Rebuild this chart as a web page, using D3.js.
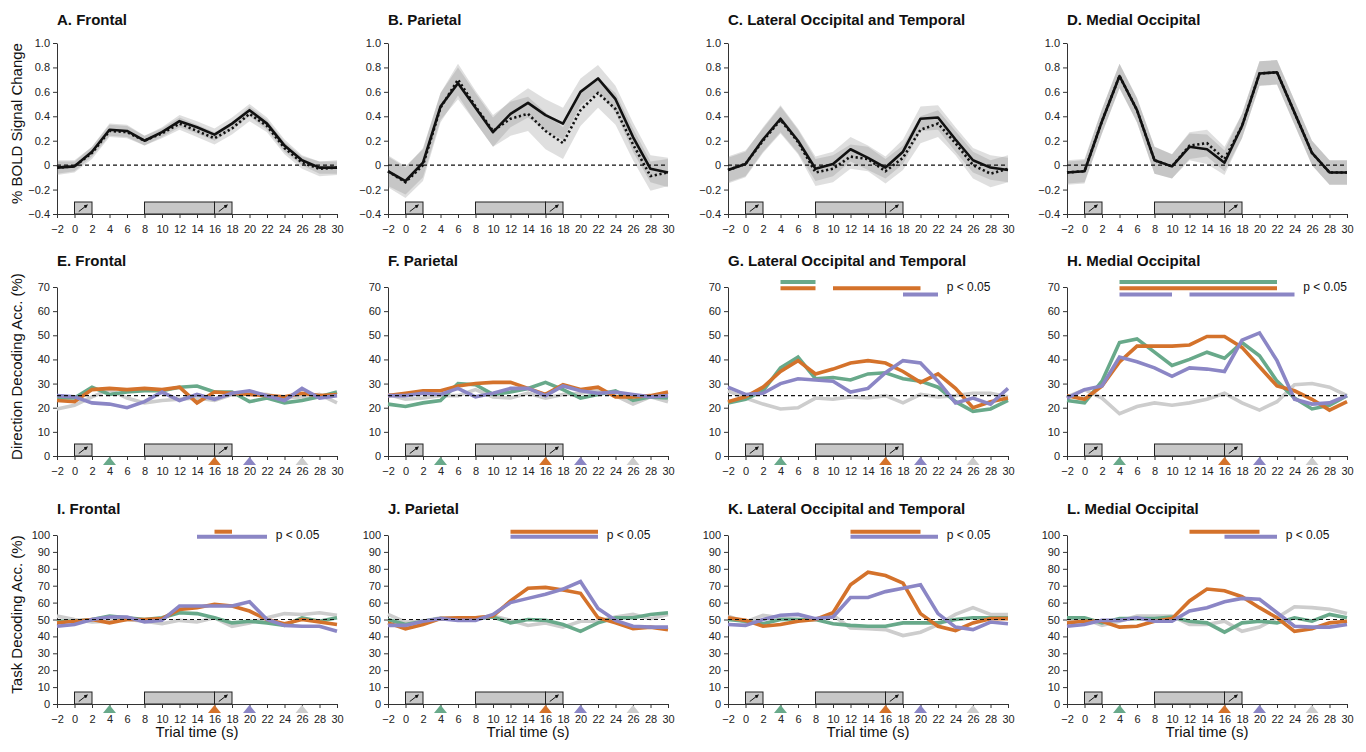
<!DOCTYPE html>
<html>
<head>
<meta charset="utf-8">
<script src="https://cdn.jsdelivr.net/npm/d3@7"></script>
<style>
  body { margin: 0; background: #fff; }
  svg { font-family: "Liberation Sans", Arial, Helvetica, sans-serif; }
</style>
</head>
<body>
<div id="chart"></div>
<script>
// ---- data ----
const times = [-2, 0, 2, 4, 6, 8, 10, 12, 14, 16, 18, 20, 22, 24, 26, 28, 30];
const regionNames = ["Frontal", "Parietal", "Lateral Occipital and Temporal", "Medial Occipital"];
const boldLetters = ["A", "B", "C", "D"];
const dirLetters = ["E", "F", "G", "H"];
const taskLetters = ["I", "J", "K", "L"];

// % BOLD signal change, solid and dotted conditions, per region
const boldSolid = [
  [-0.02, -0.01, 0.11, 0.29, 0.28, 0.20, 0.27, 0.36, 0.31, 0.25, 0.34, 0.45, 0.34, 0.16, 0.04, -0.02, -0.02],
  [-0.05, -0.13, 0.02, 0.48, 0.67, 0.47, 0.27, 0.42, 0.51, 0.41, 0.34, 0.60, 0.71, 0.54, 0.23, -0.03, -0.06],
  [-0.04, 0.01, 0.21, 0.38, 0.20, -0.03, 0.01, 0.13, 0.06, -0.02, 0.11, 0.38, 0.39, 0.21, 0.04, -0.02, -0.04],
  [-0.06, -0.05, 0.36, 0.73, 0.45, 0.04, -0.01, 0.15, 0.13, 0.02, 0.32, 0.75, 0.76, 0.43, 0.10, -0.06, -0.06]
];
const boldDotted = [
  [-0.02, -0.01, 0.10, 0.28, 0.27, 0.20, 0.26, 0.34, 0.28, 0.22, 0.30, 0.42, 0.32, 0.14, 0.02, -0.03, -0.02],
  [-0.05, -0.14, 0.00, 0.47, 0.70, 0.48, 0.28, 0.38, 0.42, 0.28, 0.18, 0.45, 0.59, 0.46, 0.17, -0.09, -0.06],
  [-0.04, 0.01, 0.20, 0.37, 0.19, -0.06, -0.03, 0.07, 0.05, -0.05, 0.06, 0.29, 0.34, 0.18, 0.00, -0.07, -0.03],
  [-0.06, -0.05, 0.36, 0.73, 0.45, 0.04, -0.01, 0.16, 0.18, 0.05, 0.32, 0.75, 0.76, 0.43, 0.10, -0.06, -0.06]
];
const boldErrSolid = [
  [0.05, 0.04, 0.04, 0.05, 0.05, 0.04, 0.04, 0.05, 0.05, 0.05, 0.05, 0.05, 0.05, 0.05, 0.04, 0.05, 0.05],
  [0.12, 0.11, 0.12, 0.11, 0.13, 0.12, 0.12, 0.11, 0.12, 0.13, 0.13, 0.11, 0.11, 0.11, 0.12, 0.11, 0.12],
  [0.10, 0.10, 0.10, 0.11, 0.10, 0.10, 0.10, 0.10, 0.10, 0.09, 0.10, 0.10, 0.10, 0.10, 0.10, 0.10, 0.10],
  [0.09, 0.09, 0.10, 0.10, 0.10, 0.11, 0.10, 0.11, 0.12, 0.10, 0.10, 0.10, 0.10, 0.10, 0.10, 0.10, 0.10]
];
const boldErrDotted = [
  [0.06, 0.05, 0.05, 0.05, 0.05, 0.04, 0.04, 0.05, 0.05, 0.05, 0.05, 0.06, 0.05, 0.05, 0.05, 0.06, 0.06],
  [0.13, 0.13, 0.13, 0.12, 0.13, 0.13, 0.13, 0.14, 0.14, 0.15, 0.13, 0.13, 0.12, 0.13, 0.13, 0.12, 0.11],
  [0.11, 0.11, 0.10, 0.11, 0.10, 0.11, 0.11, 0.10, 0.10, 0.10, 0.10, 0.11, 0.11, 0.10, 0.11, 0.11, 0.11],
  [0.10, 0.10, 0.10, 0.10, 0.10, 0.11, 0.10, 0.11, 0.11, 0.10, 0.10, 0.10, 0.10, 0.10, 0.10, 0.10, 0.10]
];

// direction decoding accuracy (%)
const dirGreen = [
  [24, 24, 28.5, 25.5, 26.5, 27, 27, 28.5, 29, 26.5, 26.5, 22.5, 24, 22, 23, 24.5, 26.5],
  [21.5, 20.5, 22, 23, 30, 29.5, 25.5, 26.5, 28, 30.5, 27.5, 24, 25.5, 27, 23, 24.5, 24],
  [22, 23.5, 27, 36.5, 41, 32, 32.5, 31.5, 34, 34.5, 32, 31, 28.5, 22.5, 18.5, 19.5, 23],
  [23, 22, 31, 47, 48.5, 43, 37.5, 40, 43, 40.5, 47, 41.5, 31, 24, 19.5, 21, 25]
];
const dirOrange = [
  [23, 22.5, 27.5, 28, 27.5, 28, 27.5, 28.5, 22, 26.5, 26, 25.5, 25, 24.5, 26, 25, 25.5],
  [25, 26, 27, 27, 29, 30, 30.5, 30.5, 28, 25.5, 29.5, 27.5, 28.5, 24.5, 24.5, 25, 26.5],
  [22.5, 24.5, 28.5, 35, 39.5, 34, 36, 38.5, 39.5, 38.5, 35, 30.5, 34, 28, 20, 22.5, 24],
  [25, 23.5, 29, 39, 45.5, 45.5, 45.5, 46, 49.5, 49.5, 45, 37, 29, 27, 23.5, 19, 22.5]
];
const dirPurple = [
  [25, 24.5, 22, 21.5, 20, 22.5, 26.5, 23, 25.5, 23.5, 26, 27, 25, 23, 28, 24, 25],
  [25, 25, 26, 25.5, 28, 24.5, 26, 28, 28, 25, 29, 27, 26, 26.5, 25.5, 24.5, 25],
  [28.5, 25.5, 26, 30, 32, 31.5, 31, 26.5, 28, 34.5, 39.5, 38.5, 31, 22, 24, 21.5, 28],
  [24, 27.5, 29, 41, 39, 36.5, 33, 36.5, 36, 35, 48, 51, 39.5, 23.5, 21.5, 22, 25]
];
const dirGray = [
  [19.5, 21, 24.5, 27.5, 24, 22, 23, 23.5, 24, 23, 25.5, 26, 25.5, 24, 24.5, 25.5, 22],
  [25.5, 23.5, 24, 25, 25, 27.5, 24.5, 24, 26, 24, 25.5, 26, 27, 25, 21.5, 24.5, 22.5],
  [27, 24, 21.5, 19.5, 20, 24, 23.5, 24.5, 24, 25, 22, 25.5, 24.5, 25, 26, 26, 24.5],
  [24.5, 27.5, 24, 17.5, 20.5, 22, 21, 22, 23.5, 26, 22, 19, 22.5, 29.5, 30, 28.5, 25]
];

// task decoding accuracy (%)
const taskGreen = [
  [49, 49, 50, 52, 51, 50, 51, 54, 53.5, 51, 48, 49, 48, 46.5, 51, 49, 51],
  [50, 47, 49, 50.5, 50, 50.5, 51.5, 48, 50, 49.5, 47, 43, 48, 51, 51, 53, 54],
  [50, 49, 47.5, 50, 50, 50, 47.5, 46.5, 46, 46, 48, 48, 48, 50, 51, 51, 51],
  [51, 51, 48, 50.5, 50.5, 50.5, 51.5, 49, 48, 42.5, 48, 49, 48, 51, 49, 53, 51]
];
const taskOrange = [
  [48, 49, 50, 48, 50, 50, 50.5, 56, 57, 59, 58, 55, 50, 47.5, 50, 48.5, 47],
  [48, 44.5, 47, 50.5, 51, 51, 52, 61, 68.5, 69, 67.5, 65.5, 51, 48, 44.5, 45.5, 44],
  [51, 49.5, 46, 47, 49, 50, 54, 70.5, 78, 76, 71.5, 53.5, 46, 43.5, 48, 50.5, 50.5],
  [48, 49, 49, 45.5, 46, 49, 50.5, 61, 68, 67, 63.5, 57, 51, 43, 44.5, 48, 49]
];
const taskPurple = [
  [46, 47, 50, 51.5, 51.5, 48.5, 49.5, 58, 58, 58, 58, 60.5, 50, 46.5, 46, 46, 43],
  [46.5, 46.5, 49, 50.5, 49.5, 49.5, 53, 60, 62.5, 65, 68, 72.5, 56.5, 49.5, 46, 45.5, 45.5],
  [47, 46.5, 50, 52.5, 53, 50.5, 51.5, 63, 63, 66.5, 68.5, 70.5, 53.5, 45.5, 44, 48.5, 47.5],
  [46, 47, 49.5, 49.5, 51, 49, 49, 55, 57, 60.5, 62.5, 62, 54, 46, 45.5, 45.5, 47]
];
const taskGray = [
  [52, 50, 48.5, 49, 50, 49, 47.5, 49.5, 48.5, 51, 46, 48, 51, 53.5, 53, 54, 52.5],
  [53, 48.5, 49, 51, 51, 51, 52, 49.5, 46.5, 48, 45.5, 49, 49, 51.5, 53, 50.5, 53],
  [52, 48.5, 52.5, 51, 50, 50, 52.5, 45, 44.5, 44, 40.5, 42.5, 47, 53, 57, 53, 53],
  [49.5, 50.5, 46.5, 49, 52, 52, 52, 47, 47, 49, 43, 45.5, 51, 57.5, 57, 56, 53.5]
];

// significance bars (p < 0.05)
const dirSigPanel  = [2, 2, 2, 2, 3, 3, 3, 3];
const dirSigSeries = ["green", "orange", "orange", "purple", "green", "orange", "purple", "purple"];
const dirSigStart  = [4, 4, 10, 18, 4, 4, 4, 12];
const dirSigEnd    = [8, 8, 20, 22, 22, 22, 10, 24];
const dirPLabelAt  = [null, null, 23, 25];

const taskSigPanel  = [0, 0, 1, 1, 2, 2, 3, 3];
const taskSigSeries = ["orange", "purple", "orange", "purple", "orange", "purple", "orange", "purple"];
const taskSigStart  = [16, 14, 12, 12, 12, 12, 12, 16];
const taskSigEnd    = [18, 22, 22, 22, 20, 22, 20, 22];
const taskPLabelAt  = [23, 23, 23, 23];

// trial events
const eventStart = [0, 8, 16];
const eventEnd = [2, 16, 18];
const eventArrow = [true, false, true];
const cueTimes = [4, 16, 20, 26];
const cueSeries = ["green", "orange", "purple", "gray"];

const seriesKeys = ["gray", "green", "orange", "purple"];
const color = d3.scaleOrdinal()
  .domain(seriesKeys)
  .range(["#cdcdcd", "#68a98a", "#d4722b", "#8b86c5"]);

// ---- layout ----
const width = 1366, height = 752;
const colLeft = [57, 388, 728, 1067];
const plotW = 280;
const rowBox = [
  { top: 43, bottom: 214 },
  { top: 287, bottom: 456 },
  { top: 535, bottom: 704 }
];
const boxH = 12;

const svg = d3.select("#chart").append("svg")
  .attr("width", width)
  .attr("height", height)
  .attr("viewBox", [0, 0, width, height]);

svg.append("defs").append("marker")
  .attr("id", "arrowhead")
  .attr("viewBox", "0 0 10 10")
  .attr("refX", 8).attr("refY", 5)
  .attr("markerWidth", 4).attr("markerHeight", 4)
  .attr("orient", "auto")
  .append("path")
  .attr("d", "M0,0 L10,5 L0,10 Z")
  .attr("fill", "#111");

const fmtTime = d => (d < 0 ? "\u2212" : "") + Math.abs(d);
const fmtBold = d => d === 0 ? "0" : (d < 0 ? "\u2212" : "") + Math.abs(d).toFixed(1);

styleAxis = (g) => {
  g.attr("font-size", 11).attr("font-family", null);
  g.select(".domain").attr("stroke", "#333");
  g.selectAll(".tick line").attr("stroke", "#333");
  g.selectAll(".tick text").attr("fill", "#222");
}

drawFrame = (col, row, y, yTicks, yFmt, title) => {
  const x = d3.scaleLinear().domain([-2, 30]).range([colLeft[col], colLeft[col] + plotW]);
  const rb = rowBox[row];
  const g = svg.append("g");

  // event boxes on the time axis
  const ev = d3.range(eventStart.length).map(i => ({ s: eventStart[i], e: eventEnd[i], arrow: eventArrow[i] }));
  g.selectAll("rect.ev").data(ev).join("rect")
    .attr("x", d => x(d.s))
    .attr("y", rb.bottom - boxH)
    .attr("width", d => x(d.e) - x(d.s))
    .attr("height", boxH)
    .attr("fill", "#c8c8c8")
    .attr("stroke", "#222")
    .attr("stroke-width", 1);
  g.selectAll("line.arr").data(ev.filter(d => d.arrow)).join("line")
    .attr("x1", d => (x(d.s) + x(d.e)) / 2 - 4.5)
    .attr("y1", rb.bottom - boxH / 2 + 3.5)
    .attr("x2", d => (x(d.s) + x(d.e)) / 2 + 4)
    .attr("y2", rb.bottom - boxH / 2 - 3)
    .attr("stroke", "#111")
    .attr("stroke-width", 1)
    .attr("marker-end", "url(#arrowhead)");

  g.append("g")
    .attr("transform", `translate(0,${rb.bottom})`)
    .call(d3.axisBottom(x).tickValues(times).tickFormat(fmtTime).tickSize(4).tickPadding(7).tickSizeOuter(0))
    .call(styleAxis);
  g.append("g")
    .attr("transform", `translate(${colLeft[col]},0)`)
    .call(d3.axisLeft(y).tickValues(yTicks).tickFormat(yFmt).tickSize(4).tickPadding(3).tickSizeOuter(0))
    .call(styleAxis);

  g.append("text")
    .attr("x", colLeft[col])
    .attr("y", rb.top - (row === 0 ? 18 : 21))
    .attr("font-size", 15)
    .attr("font-weight", "bold")
    .attr("fill", "#111")
    .text(title);
  return x;
}

chanceLine = (x, y, level) => {
  svg.append("line")
    .attr("x1", x(-2)).attr("x2", x(30))
    .attr("y1", y(level)).attr("y2", y(level))
    .attr("stroke", "#111")
    .attr("stroke-width", 1.2)
    .attr("stroke-dasharray", "4,3");
}

// ---- row 1: BOLD ----
const yBold = d3.scaleLinear().domain([-0.4, 1.0]).range([rowBox[0].bottom, rowBox[0].top]);
regionNames.forEach((name, c) => {
  const x = drawFrame(c, 0, yBold, d3.range(-0.4, 1.01, 0.2).map(v => Math.round(v * 10) / 10), fmtBold, `${boldLetters[c]}. ${name}`);
  const band = (vals, err) => d3.area()
    .x((_, i) => x(times[i]))
    .y0((v, i) => yBold(v - err[i]))
    .y1((v, i) => yBold(v + err[i]))(vals);
  [[boldDotted[c], boldErrDotted[c]], [boldSolid[c], boldErrSolid[c]]].forEach(([vals, err]) => {
    svg.append("path").attr("d", band(vals, err))
      .attr("fill", "#767676").attr("fill-opacity", 0.23);
  });
  chanceLine(x, yBold, 0);
  const line = d3.line().x((_, i) => x(times[i])).y(v => yBold(v));
  svg.append("path").attr("d", line(boldDotted[c]))
    .attr("fill", "none").attr("stroke", "#111").attr("stroke-width", 2.6)
    .attr("stroke-dasharray", "2.2,2.6");
  svg.append("path").attr("d", line(boldSolid[c]))
    .attr("fill", "none").attr("stroke", "#111").attr("stroke-width", 2.6)
    .attr("stroke-linejoin", "round");
});

// ---- rows 2 and 3: decoding ----
drawDecodingRow = (row, yMax, chance, letters, series, sig, pLabelAt, levelKeys, levelStart, levelStep) => {
  const y = d3.scaleLinear().domain([0, yMax]).range([rowBox[row].bottom, rowBox[row].top]);
  regionNames.forEach((name, c) => {
    const x = drawFrame(c, row, y, d3.range(0, yMax + 1, 10), d => String(d), `${letters[c]}. ${name}`);
    const line = d3.line().x((_, i) => x(times[i])).y(v => y(v));
    seriesKeys.forEach(k => {
      svg.append("path").attr("d", line(series[k][c]))
        .attr("fill", "none")
        .attr("stroke", color(k))
        .attr("stroke-width", 3.6)
        .attr("stroke-linejoin", "miter");
    });
    chanceLine(x, y, chance);

    // cue triangles under the axis
    svg.selectAll(null).data(cueTimes.map((t, i) => ({ t, k: cueSeries[i] }))).join("path")
      .attr("d", d => `M${x(d.t) - 6.5},${rowBox[row].bottom + 9} L${x(d.t)},${rowBox[row].bottom + 1} L${x(d.t) + 6.5},${rowBox[row].bottom + 9} Z`)
      .attr("fill", d => color(d.k));

    // significance bars
    const bars = d3.range(sig.panel.length).filter(i => sig.panel[i] === c)
      .map(i => ({ k: sig.series[i], s: sig.start[i], e: sig.end[i] }));
    svg.selectAll(null).data(bars).join("line")
      .attr("x1", d => x(d.s)).attr("x2", d => x(d.e))
      .attr("y1", d => rowBox[row].top + levelStart + levelKeys.indexOf(d.k) * levelStep)
      .attr("y2", d => rowBox[row].top + levelStart + levelKeys.indexOf(d.k) * levelStep)
      .attr("stroke", d => color(d.k))
      .attr("stroke-width", 4);
    if (pLabelAt[c] !== null) {
      svg.append("text")
        .attr("x", x(pLabelAt[c]))
        .attr("y", rowBox[row].top)
        .attr("dy", "0.35em")
        .attr("font-size", 12)
        .attr("fill", "#111")
        .text("p < 0.05");
    }
  });
}

drawDecodingRow(1, 70, 25, dirLetters,
  { gray: dirGray, green: dirGreen, orange: dirOrange, purple: dirPurple },
  { panel: dirSigPanel, series: dirSigSeries, start: dirSigStart, end: dirSigEnd },
  dirPLabelAt, ["green", "orange", "purple"], -5, 6.2);

drawDecodingRow(2, 100, 50, taskLetters,
  { gray: taskGray, green: taskGreen, orange: taskOrange, purple: taskPurple },
  { panel: taskSigPanel, series: taskSigSeries, start: taskSigStart, end: taskSigEnd },
  taskPLabelAt, ["orange", "purple"], -3.3, 5);

// ---- axis titles ----
const yTitles = ["% BOLD Signal Change", "Direction Decoding Acc. (%)", "Task Decoding Acc. (%)"];
svg.selectAll("text.ytitle").data(yTitles).join("text")
  .attr("class", "ytitle")
  .attr("transform", (d, i) => `translate(17,${(rowBox[i].top + rowBox[i].bottom) / 2 - 5}) rotate(-90)`)
  .attr("text-anchor", "middle")
  .attr("dy", "0.35em")
  .attr("font-size", 15)
  .attr("fill", "#111")
  .text(d => d);

svg.selectAll("text.xtitle").data(colLeft).join("text")
  .attr("class", "xtitle")
  .attr("x", d => d + plotW / 2)
  .attr("y", rowBox[2].bottom + 33)
  .attr("text-anchor", "middle")
  .attr("font-size", 15)
  .attr("fill", "#111")
  .text("Trial time (s)");
</script>
</body>
</html>
